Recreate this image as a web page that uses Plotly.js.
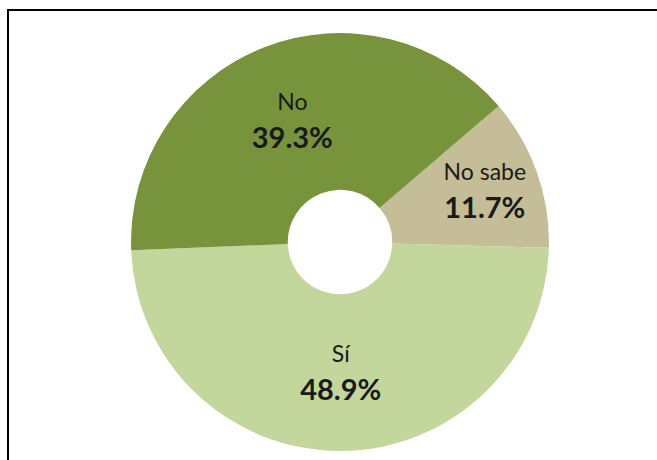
<!DOCTYPE html>
<html>
<head>
<meta charset="utf-8">
<script src="https://cdn.plot.ly/plotly-3.0.1.min.js"></script>
<style>
  html, body { margin: 0; padding: 0; background: #ffffff; }
  #wrap { position: relative; width: 657px; height: 460px; overflow: hidden; }
  #frame { position: absolute; left: 7px; top: 9px; width: 700px; height: 500px;
           border-left: 2px solid #000; border-top: 2px solid #000; box-sizing: border-box; }
  #chart { position: absolute; left: 0; top: 0; width: 657px; height: 460px; }
</style>
</head>
<body>
<div id="wrap">
  <div id="frame"></div>
  <div id="chart"></div>
</div>
<script>
// Data
const categories = ["No sabe", "Sí", "No"];
const values = [11.7, 48.9, 39.3];
const sliceColors = ["#C4BD97", "#C3D69B", "#77933C"];

const pctText = values.map(v => v.toFixed(1) + "%");

const trace = {
  type: "pie",
  labels: categories,
  values: values,
  text: pctText,
  hole: 0.25,
  sort: false,
  direction: "clockwise",
  rotation: 49.4,
  marker: { colors: sliceColors, line: { width: 0 } },
  textinfo: "text",
  texttemplate: "<span style='font-size:23px'>%{label}</span><br><b>%{text}</b>",
  textposition: "inside",
  insidetextorientation: "horizontal",
  insidetextfont: { family: "Lato, 'Open Sans', sans-serif", size: 29, color: "#1a1a1a" },
  hoverinfo: "label+text",
  showlegend: false,
  domain: { x: [0.1994, 0.8356], y: [0.0196, 0.928] }
};

const layout = {
  width: 657,
  height: 460,
  margin: { l: 0, r: 0, t: 0, b: 0 },
  paper_bgcolor: "rgba(0,0,0,0)",
  plot_bgcolor: "rgba(0,0,0,0)",
  showlegend: false
};

Plotly.newPlot("chart", [trace], layout, { displayModeBar: false, staticPlot: true });
</script>
</body>
</html>
